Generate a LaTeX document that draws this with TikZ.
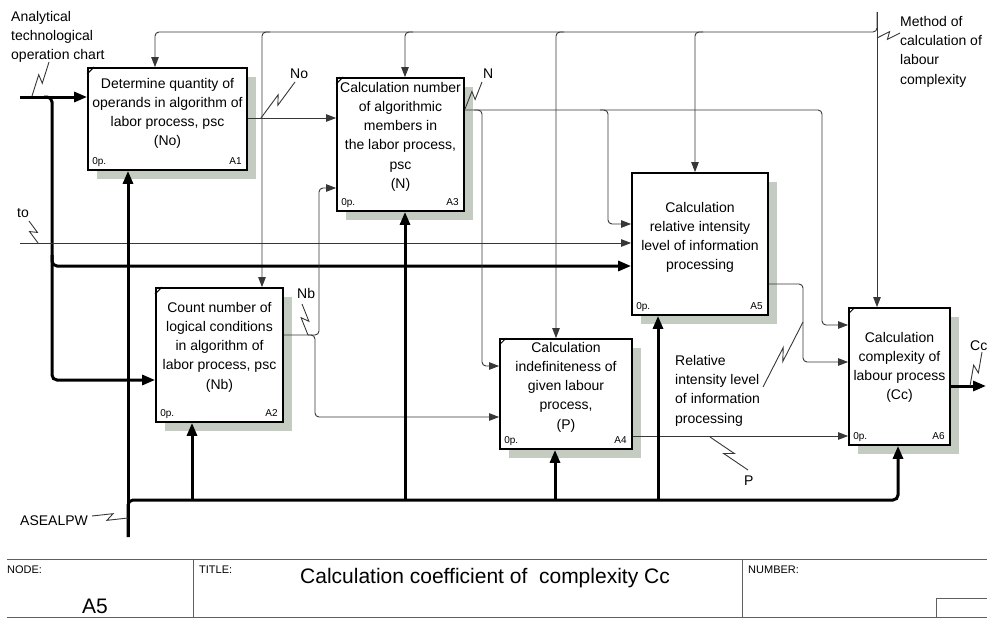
\documentclass[tikz,border=0pt]{standalone}
\usepackage{fontspec}
\setmainfont{Liberation Sans}
\usetikzlibrary{arrows.meta,shadows,calc}
\definecolor{shade}{RGB}{196,203,193}
\definecolor{wirec}{RGB}{55,55,55}
\definecolor{rulec}{RGB}{95,95,95}

% activity box: frame with drop shadow, centred text, "0p." and number tags
\newcommand\procbox[8]{%
  \node[actbox, minimum width=#4pt, minimum height=#5pt] (#1) at (#2,#3) {};
  \node[btxt] (#1-t) at ([yshift=-#7pt]#1.north) {#8};
  \node[tag, anchor=base west] (#1-o) at ([xshift=5pt,yshift=6pt]#1.south west) {0p.};
  \node[tag, anchor=base east] (#1-n) at ([xshift=-6pt,yshift=6pt]#1.south east) {#6};
}
% IDEF0 squiggle joining a label to its arrow
\newcommand\squig[2]{%
  \draw[wire] (#1) -- ($(#1)!0.58!(#2)!3.5pt!90:(#2)$)
                   -- ($(#1)!0.42!(#2)!3.5pt!-90:(#2)$) -- (#2);
}
% small mark in the upper left corner of a box
\newcommand\cornermark[1]{%
  \draw[line width=1pt] ([yshift=-7pt]#1.north west) -- ([xshift=7pt]#1.north west);
}

\begin{document}
\begin{tikzpicture}[x=1pt,y=-1pt,
  actbox/.style={draw=black, line width=1.8pt, fill=white, inner sep=0pt,
    drop shadow={shadow xshift=9pt, shadow yshift=-9pt, fill=shade, opacity=1}},
  btxt/.style={anchor=north, align=center, inner sep=0pt, font=\fontsize{14}{19.2}\selectfont},
  tag/.style={inner sep=0pt, font=\fontsize{10}{12}\selectfont},
  lbl/.style={inner sep=0pt, align=left, font=\fontsize{14}{19.3}\selectfont},
  small/.style={inner sep=0pt, font=\fontsize{11}{13}\selectfont},
  big/.style={inner sep=0pt, font=\fontsize{21}{25}\selectfont},
  wire/.style={draw=wirec, line width=0.9pt},
  heavy/.style={draw=black, line width=3pt},
  tipT/.style={-{Triangle[length=10pt,width=7.5pt]}},
  tipH/.style={-{Triangle[length=13pt,width=10pt]}},
  frame/.style={draw=rulec, line width=1pt}]

\useasboundingbox (0,0) rectangle (987,618);

% ---- activity boxes
\procbox{A1}{167.5}{119}{159}{102}{A1}{9}{\rule{0pt}{12pt}Determine quantity of\\operands in algorithm of\\labor process, psc\\(No)}
\procbox{A3}{400.5}{144.5}{127}{133}{A3}{3}{\rule{0pt}{12pt}Calculation number\\of algorithmic\\members in\\the labor process,\\psc\\(N)}
\procbox{A5}{700}{244}{136}{142}{A5}{28}{\rule{0pt}{12pt}Calculation\\relative intensity\\level of information\\processing}
\procbox{A6}{899.5}{376.5}{101}{137}{A6}{23}{\rule{0pt}{12pt}Calculation\\complexity of\\labour process\\(Cc)}
\procbox{A2}{219.5}{355}{127}{134}{A2}{13}{\rule{0pt}{12pt}Count number of\\logical conditions\\in algorithm of\\labor process, psc\\(Nb)}
\procbox{A4}{566}{394}{132}{110}{A4}{2}{\rule{0pt}{12pt}Calculation\\indefiniteness of\\given labour\\process,\\(P)}

\cornermark{A1}
\cornermark{A2}
\cornermark{A3}
\cornermark{A4}
\cornermark{A6}

% ---- controls (from the top)
\coordinate (kTop) at (877,12);
\coordinate (kR)   at (877,32);
\coordinate (kA1)  at (155,32);
\coordinate (kA2)  at (262,32);
\coordinate (kA3)  at (405,32);
\coordinate (kA4)  at (556,32);
\coordinate (kA5)  at (695,32);
\draw[wire, tipT] (kTop) -- (kTop |- A6.north);
\draw[wire, tipT, rounded corners=4pt] (kTop) -- (kR) -- (kA1) -- (kA1 |- A1.north);
\draw[wire, tipT, rounded corners=4pt] ([xshift=8pt]kA2) -- (kA2) -- (kA2 |- A2.north);
\draw[wire, tipT, rounded corners=4pt] ([xshift=8pt]kA3) -- (kA3) -- (kA3 |- A3.north);
\draw[wire, tipT, rounded corners=4pt] ([xshift=8pt]kA4) -- (kA4) -- (kA4 |- A4.north);
\draw[wire, tipT, rounded corners=4pt] ([xshift=8pt]kA5) -- (kA5) -- (kA5 |- A5.north);

% ---- inputs (from the left)
\coordinate (inChart) at (20,97);
\coordinate (inTo)    at (20,243);
\draw[heavy, tipH] (inChart) -- (A1.west |- inChart);
\draw[heavy, tipH, rounded corners=5pt] (44,97) -- (52,97) |- (A2.west |- 0,380);
\draw[heavy, tipH, rounded corners=5pt] (52,255) |- (A5.west |- 0,266);
\draw[wire, tipT] (inTo) -- (A5.west |- inTo);

% ---- outputs between activities
\draw[wire, tipT] (A1.east |- 0,118) -- (A3.west |- 0,118);
\draw[wire, tipT, rounded corners=4pt] (A2.east |- 0,335) -- (319,335) -- (319,188) -- (A3.west |- 0,188);
\draw[wire, tipT, rounded corners=4pt] (308,335) -- (315,335) -- (315,417) -- (A4.west |- 0,417);
\draw[wire, tipT, rounded corners=4pt] (A3.east |- 0,110) -- (822,110) -- (822,325) -- (A6.west |- 0,325);
\draw[wire, tipT, rounded corners=4pt] (474,110) -- (482,110) -- (482,366) -- (A4.west |- 0,366);
\draw[wire, tipT, rounded corners=4pt] (600,110) -- (608,110) -- (608,224) -- (A5.west |- 0,224);
\draw[wire, tipT, rounded corners=4pt] (A5.east |- 0,284) -- (803,284) -- (803,362) -- (A6.west |- 0,362);
\draw[wire, tipT] (A4.east |- 0,436) -- (A6.west |- 0,436);
\coordinate (outCc) at (986,386);
\draw[heavy, tipH] (A6.east |- outCc) -- (outCc);

% ---- mechanisms (from the bottom)
\coordinate (mech) at (128,537);
\coordinate (mA2) at (192,500);
\coordinate (mA3) at (405,500);
\coordinate (mA4) at (555,500);
\coordinate (mA5) at (658,500);
\draw[heavy, tipH] (mech) -- (mech |- A1.south);
\draw[heavy, tipH, rounded corners=5pt] (mech) |- (898,500) -- (A6.south -| 898,0);
\draw[heavy, tipH] (mA2) -- (mA2 |- A2.south);
\draw[heavy, tipH] (mA3) -- (mA3 |- A3.south);
\draw[heavy, tipH] (mA4) -- (mA4 |- A4.south);
\draw[heavy, tipH] (mA5) -- (mA5 |- A5.south);

% ---- arrow labels
\node[lbl, anchor=north west] (lChart) at (11,9) {\rule{0pt}{12pt}Analytical\\technological\\operation chart};
\node[lbl, anchor=base west] (lTo) at (17,217) {to};
\node[lbl, anchor=base west] (lNo) at (290,78) {No};
\node[lbl, anchor=base west] (lN) at (483,78) {N};
\node[lbl, anchor=base west] (lNb) at (297,298) {Nb};
\node[lbl, anchor=north west] (lMeth) at (900,14) {\rule{0pt}{12pt}Method of\\calculation of\\labour\\complexity};
\node[lbl, anchor=north west] (lRel) at (675,353) {\rule{0pt}{12pt}Relative\\intensity level\\of information\\processing};
\node[lbl, anchor=base west] (lP) at (744,485) {P};
\node[lbl, anchor=base west] (lCc) at (970,350) {Cc};
\node[lbl, anchor=base west] (lMech) at (20,525) {ASEALPW};

\coordinate (s1a) at (32,96);   \coordinate (s1b) at (49,62);
\coordinate (s2a) at (38,243);  \coordinate (s2b) at (29,221);
\coordinate (s3a) at (261,118); \coordinate (s3b) at (295,82);
\coordinate (s4a) at (465,109); \coordinate (s4b) at (482,82);
\coordinate (s5a) at (308,335); \coordinate (s5b) at (302,304);
\coordinate (s6a) at (877,38);  \coordinate (s6b) at (900,33);
\coordinate (s7a) at (803,322); \coordinate (s7b) at (763,387);
\coordinate (s8a) at (710,437); \coordinate (s8b) at (748,470);
\coordinate (s9a) at (970,386); \coordinate (s9b) at (982,352);
\coordinate (s10a) at (128,518); \coordinate (s10b) at (92,516);
\squig{s1a}{s1b}
\squig{s2a}{s2b}
\squig{s3a}{s3b}
\squig{s4a}{s4b}
\squig{s5a}{s5b}
\squig{s6a}{s6b}
\squig{s7a}{s7b}
\squig{s8a}{s8b}
\squig{s9a}{s9b}
\squig{s10a}{s10b}

% ---- title block
\draw[frame] (7,559) -- (987,559);
\draw[frame] (7,617) -- (987,617);
\draw[frame] (193,559) -- (193,617);
\draw[frame] (742,559) -- (742,617);
\draw[frame] (936,598) rectangle (992,617);
\node[small, anchor=base west] (tNode) at (7,573) {NODE:};
\node[small, anchor=base west] (tTitle) at (199,573) {TITLE:};
\node[small, anchor=base west] (tNum) at (748,573) {NUMBER:};
\node[big, anchor=base west] (tA5) at (82,613) {A5};
\node[big, anchor=base west] (tName) at (300,583) {Calculation coefficient of\ \ complexity Cc};
\end{tikzpicture}
\end{document}
